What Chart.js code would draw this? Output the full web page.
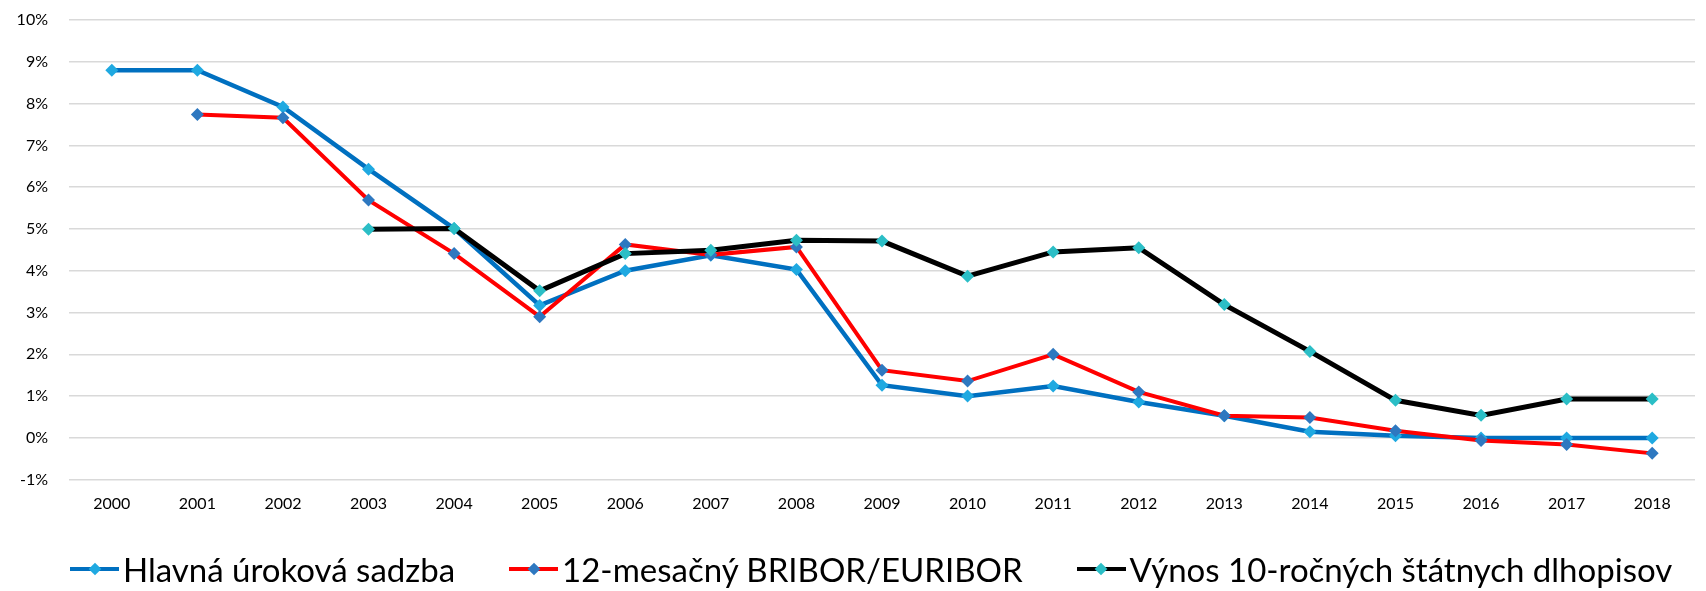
<!DOCTYPE html>
<html>
<head>
<meta charset="utf-8">
<script src="https://cdn.jsdelivr.net/npm/chart.js@4"></script>
<style>
  html, body { margin: 0; padding: 0; background: #fff; }
  #wrap { position: relative; width: 1706px; height: 591px; }
  #legend { position: absolute; left: 70px; top: 548px; display: flex; align-items: center;
            font-family: Lato, sans-serif; font-size: 33px; line-height: 42px; color: #000; white-space: nowrap; }
  #legend .item { display: flex; align-items: center; margin-right: 54px; }
  #legend .swatch { position: relative; width: 49px; height: 4px; margin-right: 4px; }
  #legend .swatch i { position: absolute; left: 50%; top: 50%; width: 9px; height: 9px;
                      transform: translate(-50%, -50%) rotate(45deg); }
</style>
</head>
<body>
<div id="wrap">
  <canvas id="rates"></canvas>
  <div id="legend"></div>
</div>
<script>
const years = ['2000', '2001', '2002', '2003', '2004', '2005', '2006', '2007', '2008', '2009',
               '2010', '2011', '2012', '2013', '2014', '2015', '2016', '2017', '2018'];

// v percentach
const hlavnaSadzba   = [8.8, 8.8, 7.92, 6.43, 5.01, 3.17, 4.0, 4.37, 4.03, 1.26,
                        1.0, 1.24, 0.86, 0.53, 0.15, 0.05, 0, 0, 0];
const briborEuribor  = [null, 7.74, 7.66, 5.69, 4.41, 2.9, 4.63, 4.38, 4.57, 1.62,
                        1.36, 2.0, 1.1, 0.53, 0.49, 0.17, -0.06, -0.16, -0.37];
const vynosDlhopisov = [null, null, null, 4.99, 5.01, 3.52, 4.41, 4.49, 4.73, 4.71,
                        3.87, 4.45, 4.55, 3.19, 2.07, 0.9, 0.54, 0.93, 0.93];

const yMin = -1, yMax = 10, yStep = 1;

const seriesNames = ['Hlavná úroková sadzba', '12-mesačný BRIBOR/EURIBOR', 'Výnos 10-ročných štátnych dlhopisov'];

function line(label, data, color, marker, width, order) {
  return {
    label: label,
    data: data,
    borderColor: color,
    backgroundColor: color,
    borderWidth: width,
    pointStyle: 'rectRot',
    pointRadius: 6.5,
    pointHoverRadius: 6.5,
    pointBackgroundColor: marker,
    pointBorderColor: marker,
    pointBorderWidth: 0,
    markerColor: marker,
    tension: 0,
    spanGaps: false,
    order: order
  };
}

const htmlLegend = {
  id: 'htmlLegend',
  afterUpdate(chart) {
    const box = document.getElementById('legend');
    box.innerHTML = '';
    chart.data.datasets.forEach(ds => {
      const item = document.createElement('div');
      item.className = 'item';
      const sw = document.createElement('span');
      sw.className = 'swatch';
      sw.style.background = ds.borderColor;
      const dot = document.createElement('i');
      dot.style.background = ds.markerColor;
      sw.appendChild(dot);
      const txt = document.createElement('span');
      txt.textContent = ds.label;
      item.appendChild(sw);
      item.appendChild(txt);
      box.appendChild(item);
    });
  }
};

new Chart(document.getElementById('rates'), {
  type: 'line',
  data: {
    labels: years,
    datasets: [
      line(seriesNames[0], hlavnaSadzba, '#0070C0', '#1FA9E1', 4.5, 2),
      line(seriesNames[1], briborEuribor, '#FF0000', '#2E78C0', 4, 1),
      line(seriesNames[2], vynosDlhopisov, '#000000', '#2BBEC6', 5, 0)
    ]
  },
  options: {
    responsive: true,
    maintainAspectRatio: false,
    animation: false,
    layout: { padding: { top: 20, right: 11, bottom: 71.3, left: 0 } },
    plugins: {
      legend: { display: false },
      tooltip: { enabled: false }
    },
    scales: {
      x: {
        offset: true,
        grid: { display: false },
        border: { display: false },
        ticks: { color: '#000', font: { family: 'Lato', size: 16 }, padding: 7, maxRotation: 0 },
        afterFit(scale) { scale.height = 40; }
      },
      y: {
        min: yMin,
        max: yMax,
        grid: { color: '#D9D9D9', lineWidth: 1.5, drawTicks: false },
        border: { display: false },
        ticks: {
          stepSize: yStep,
          color: '#000',
          font: { family: 'Lato', size: 16 },
          padding: 21,
          callback: v => v + '%'
        },
        afterFit(scale) {
          scale.width = 69;
          // tick padding would otherwise push the plot area down
          scale.paddingTop = 0;
          scale.paddingBottom = 0;
        }
      }
    }
  },
  plugins: [htmlLegend]
});
</script>
</body>
</html>
